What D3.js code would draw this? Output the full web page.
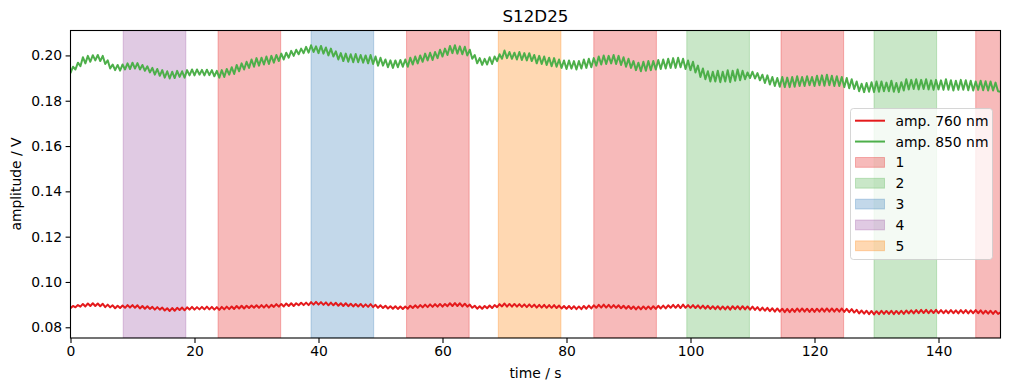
<!DOCTYPE html>
<html>
<head>
<meta charset="utf-8">
<script src="https://cdn.jsdelivr.net/npm/d3@7"></script>
<style>
  body { margin: 0; background: #fff; }
  svg { display: block; font-family: "DejaVu Sans", sans-serif; }
</style>
</head>
<body>
<svg width="1010" height="391"></svg>
<script>
// sampled every 0.4 s
var sampleStep = 0.4;

var amp760 = [
  0.0884,0.0894,0.0888,0.0898,0.0891, 0.0903,0.0892,0.0905,0.0894,0.0906,
  0.0894,0.0905,0.0893,0.0904,0.0889, 0.0900,0.0888,0.0897,0.0884,0.0895,
  0.0885,0.0896,0.0886,0.0898,0.0887, 0.0898,0.0886,0.0897,0.0883,0.0894,
  0.0882,0.0893,0.0881,0.0890,0.0878, 0.0889,0.0878,0.0887,0.0874,0.0884,
  0.0872,0.0885,0.0873,0.0886,0.0876, 0.0887,0.0875,0.0888,0.0878,0.0890,
  0.0878,0.0889,0.0879,0.0890,0.0879, 0.0891,0.0879,0.0890,0.0878,0.0889,
  0.0877,0.0890,0.0879,0.0891,0.0880, 0.0892,0.0881,0.0894,0.0883,0.0895,
  0.0883,0.0895,0.0885,0.0896,0.0886, 0.0897,0.0886,0.0898,0.0887,0.0899,
  0.0887,0.0899,0.0890,0.0902,0.0891, 0.0903,0.0892,0.0905,0.0894,0.0906,
  0.0894,0.0906,0.0897,0.0908,0.0898, 0.0909,0.0898,0.0911,0.0900,0.0912,
  0.0900,0.0911,0.0899,0.0910,0.0897, 0.0909,0.0897,0.0908,0.0895,0.0906,
  0.0894,0.0906,0.0893,0.0904,0.0892, 0.0903,0.0892,0.0903,0.0890,0.0901,
  0.0890,0.0902,0.0889,0.0899,0.0886, 0.0897,0.0885,0.0895,0.0883,0.0893,
  0.0882,0.0893,0.0881,0.0892,0.0881, 0.0892,0.0882,0.0895,0.0885,0.0897,
  0.0886,0.0898,0.0888,0.0900,0.0889, 0.0901,0.0890,0.0902,0.0891,0.0903,
  0.0891,0.0903,0.0893,0.0906,0.0894, 0.0907,0.0894,0.0906,0.0892,0.0904,
  0.0891,0.0900,0.0886,0.0895,0.0882, 0.0893,0.0882,0.0894,0.0884,0.0896,
  0.0885,0.0898,0.0889,0.0902,0.0892, 0.0905,0.0891,0.0903,0.0891,0.0903,
  0.0891,0.0902,0.0890,0.0901,0.0889, 0.0901,0.0889,0.0900,0.0887,0.0899,
  0.0887,0.0899,0.0886,0.0898,0.0886, 0.0898,0.0885,0.0896,0.0883,0.0894,
  0.0882,0.0894,0.0881,0.0893,0.0880, 0.0892,0.0880,0.0894,0.0882,0.0896,
  0.0883,0.0897,0.0886,0.0899,0.0887, 0.0900,0.0887,0.0899,0.0886,0.0898,
  0.0886,0.0897,0.0884,0.0895,0.0882, 0.0894,0.0881,0.0892,0.0879,0.0891,
  0.0879,0.0892,0.0880,0.0892,0.0880, 0.0893,0.0881,0.0895,0.0883,0.0896,
  0.0883,0.0897,0.0886,0.0899,0.0886, 0.0899,0.0885,0.0900,0.0886,0.0898,
  0.0886,0.0898,0.0885,0.0897,0.0883, 0.0896,0.0882,0.0895,0.0881,0.0893,
  0.0880,0.0893,0.0879,0.0892,0.0879, 0.0892,0.0878,0.0893,0.0880,0.0893,
  0.0879,0.0893,0.0879,0.0892,0.0878, 0.0891,0.0877,0.0889,0.0874,0.0887,
  0.0873,0.0886,0.0871,0.0884,0.0869, 0.0883,0.0869,0.0882,0.0867,0.0881,
  0.0867,0.0881,0.0868,0.0883,0.0869, 0.0883,0.0869,0.0882,0.0868,0.0882,
  0.0868,0.0882,0.0869,0.0883,0.0869, 0.0883,0.0869,0.0883,0.0869,0.0882,
  0.0869,0.0883,0.0868,0.0881,0.0867, 0.0880,0.0865,0.0877,0.0861,0.0874,
  0.0860,0.0873,0.0858,0.0872,0.0857, 0.0871,0.0858,0.0873,0.0859,0.0872,
  0.0859,0.0873,0.0858,0.0872,0.0859, 0.0873,0.0859,0.0874,0.0861,0.0875,
  0.0861,0.0876,0.0862,0.0877,0.0863, 0.0877,0.0862,0.0876,0.0863,0.0877,
  0.0862,0.0876,0.0862,0.0875,0.0862, 0.0876,0.0862,0.0875,0.0861,0.0876,
  0.0862,0.0876,0.0861,0.0875,0.0862, 0.0876,0.0862,0.0875,0.0860,0.0873,
  0.0860,0.0873,0.0859,0.0872,0.0859, 0.0866
];

var amp850 = [
  0.1922,0.1950,0.1938,0.1968,0.1952, 0.1992,0.1965,0.1998,0.1972,0.2001,
  0.1978,0.2002,0.1975,0.1998,0.1962, 0.1978,0.1942,0.1960,0.1935,0.1958,
  0.1933,0.1960,0.1938,0.1965,0.1940, 0.1968,0.1942,0.1966,0.1938,0.1958,
  0.1932,0.1952,0.1925,0.1945,0.1915, 0.1940,0.1910,0.1935,0.1902,0.1930,
  0.1898,0.1928,0.1900,0.1932,0.1905, 0.1930,0.1902,0.1935,0.1912,0.1938,
  0.1912,0.1938,0.1915,0.1936,0.1912, 0.1937,0.1913,0.1935,0.1908,0.1932,
  0.1902,0.1935,0.1905,0.1940,0.1915, 0.1948,0.1918,0.1958,0.1930,0.1965,
  0.1938,0.1972,0.1945,0.1982,0.1950, 0.1988,0.1955,0.1990,0.1960,0.1995,
  0.1962,0.1998,0.1968,0.2002,0.1975, 0.2008,0.1982,0.2012,0.1990,0.2020,
  0.1998,0.2025,0.2005,0.2030,0.2010, 0.2038,0.2012,0.2045,0.2015,0.2040,
  0.2010,0.2042,0.2008,0.2035,0.2000, 0.2030,0.1995,0.2018,0.1982,0.2010,
  0.1975,0.2008,0.1972,0.2005,0.1970, 0.2006,0.1970,0.2002,0.1968,0.2000,
  0.1965,0.2002,0.1962,0.1995,0.1955, 0.1990,0.1955,0.1982,0.1948,0.1978,
  0.1945,0.1978,0.1948,0.1980,0.1950, 0.1982,0.1950,0.1990,0.1960,0.1995,
  0.1965,0.2000,0.1972,0.2008,0.1978, 0.2012,0.1980,0.2015,0.1988,0.2025,
  0.1995,0.2030,0.2002,0.2042,0.2010, 0.2045,0.2008,0.2040,0.2005,0.2038,
  0.2000,0.2025,0.1985,0.2002,0.1965, 0.1988,0.1958,0.1985,0.1960,0.1992,
  0.1962,0.1995,0.1975,0.2005,0.1985, 0.2022,0.1988,0.2015,0.1985,0.2012,
  0.1982,0.2015,0.1980,0.2010,0.1978, 0.2010,0.1975,0.2002,0.1965,0.1998,
  0.1962,0.1995,0.1958,0.1990,0.1952, 0.1988,0.1950,0.1982,0.1945,0.1978,
  0.1940,0.1978,0.1942,0.1975,0.1938, 0.1975,0.1942,0.1982,0.1945,0.1985,
  0.1948,0.1988,0.1955,0.1995,0.1960, 0.2000,0.1962,0.1998,0.1965,0.2002,
  0.1962,0.1998,0.1958,0.1992,0.1950, 0.1985,0.1945,0.1975,0.1935,0.1968,
  0.1930,0.1972,0.1932,0.1975,0.1935, 0.1975,0.1938,0.1980,0.1940,0.1982,
  0.1942,0.1985,0.1945,0.1988,0.1945, 0.1990,0.1948,0.1985,0.1940,0.1978,
  0.1935,0.1972,0.1925,0.1955,0.1905, 0.1942,0.1895,0.1930,0.1885,0.1928,
  0.1885,0.1932,0.1882,0.1928,0.1885, 0.1935,0.1882,0.1932,0.1888,0.1938,
  0.1890,0.1932,0.1895,0.1925,0.1900, 0.1928,0.1898,0.1922,0.1890,0.1915,
  0.1878,0.1912,0.1872,0.1905,0.1865, 0.1900,0.1862,0.1905,0.1860,0.1902,
  0.1860,0.1905,0.1862,0.1908,0.1865, 0.1905,0.1865,0.1908,0.1868,0.1905,
  0.1865,0.1910,0.1868,0.1912,0.1866, 0.1915,0.1868,0.1910,0.1865,0.1908,
  0.1865,0.1905,0.1860,0.1900,0.1855, 0.1895,0.1852,0.1885,0.1842,0.1875,
  0.1838,0.1878,0.1840,0.1882,0.1838, 0.1885,0.1840,0.1885,0.1842,0.1880,
  0.1842,0.1888,0.1840,0.1878,0.1838, 0.1882,0.1845,0.1895,0.1850,0.1892,
  0.1852,0.1895,0.1850,0.1892,0.1852, 0.1895,0.1850,0.1890,0.1848,0.1892,
  0.1850,0.1890,0.1848,0.1895,0.1848, 0.1890,0.1845,0.1888,0.1848,0.1892,
  0.1848,0.1890,0.1846,0.1888,0.1845, 0.1885,0.1848,0.1888,0.1846,0.1886,
  0.1845,0.1885,0.1845,0.1880,0.1842, 0.1840
];

// stimulus blocks: onset (s), duration (s), condition
var blockOnsets = [8.5, 23.8, 38.8, 54.2, 69.0, 84.4, 99.4, 114.6, 129.6, 146.0];
var blockDurations = [10.1, 10.1, 10.1, 10.1, 10.1, 10.1, 10.1, 10.1, 10.1, 10.1];
var blockConditions = ["4", "1", "3", "1", "5", "1", "2", "1", "2", "1"];

var conditionNames = ["1", "2", "3", "4", "5"];
var conditionColors = ["#e41a1c", "#4daf4a", "#377eb8", "#984ea3", "#ff7f00"];

var seriesNames = ["amp. 760 nm", "amp. 850 nm"];
var seriesColors = ["#e41a1c", "#4daf4a"];

var xTicks = [0, 20, 40, 60, 80, 100, 120, 140];
var yTicks = [0.08, 0.10, 0.12, 0.14, 0.16, 0.18, 0.20];

var svg = d3.select("svg");
var pLeft = 70.5, pRight = 1000.5, pTop = 30, pBottom = 338;

var x = d3.scaleLinear().domain([0, 150]).range([pLeft, pRight]);
var y = d3.scaleLinear().domain([0.07527, 0.21122]).range([pBottom, pTop]);
var colorOf = d3.scaleOrdinal().domain(conditionNames).range(conditionColors);

svg.append("defs").append("clipPath").attr("id", "plot")
  .append("rect").attr("x", pLeft).attr("y", pTop)
  .attr("width", pRight - pLeft).attr("height", pBottom - pTop);

var plot = svg.append("g").attr("clip-path", "url(#plot)");

// blocks
plot.selectAll("rect.block")
  .data(blockOnsets)
  .join("rect")
  .attr("class", "block")
  .attr("x", function(d) { return x(d); })
  .attr("y", pTop)
  .attr("width", function(d, i) { return x(d + blockDurations[i]) - x(d); })
  .attr("height", pBottom - pTop)
  .attr("fill", function(d, i) { return colorOf(blockConditions[i]); })
  .attr("fill-opacity", 0.3)
  .attr("stroke", function(d, i) { return colorOf(blockConditions[i]); })
  .attr("stroke-opacity", 0.3)
  .attr("stroke-width", 1);

var line = d3.line()
  .x(function(d, i) { return x(i * sampleStep); })
  .y(function(d) { return y(d); });

[amp760, amp850].forEach(function(s, k) {
  plot.append("path")
    .datum(s)
    .attr("d", line)
    .attr("fill", "none")
    .attr("stroke", seriesColors[k])
    .attr("stroke-width", 2)
    .attr("stroke-linejoin", "round");
});

// axes
var xAxis = svg.append("g")
  .attr("transform", "translate(0," + pBottom + ")")
  .call(d3.axisBottom(x).tickValues(xTicks).tickSize(4.9).tickPadding(3.5).tickFormat(d3.format("d")));
var yAxis = svg.append("g")
  .attr("transform", "translate(" + pLeft + ",0)")
  .call(d3.axisLeft(y).tickValues(yTicks).tickSize(4.9).tickPadding(3.5).tickFormat(d3.format(".2f")));

[xAxis, yAxis].forEach(function(g) {
  g.select(".domain").remove();
  g.selectAll("line").attr("stroke", "#000").attr("stroke-width", 1.1);
  g.selectAll("text").attr("fill", "#000").style("font-size", "13.9px")
    .style("font-family", "DejaVu Sans");
});

svg.append("rect")
  .attr("x", pLeft).attr("y", pTop + 0.5)
  .attr("width", pRight - pLeft).attr("height", pBottom - pTop - 0.5)
  .attr("fill", "none").attr("stroke", "#000").attr("stroke-width", 1.1);

svg.append("text")
  .attr("x", (pLeft + pRight) / 2).attr("y", 22)
  .attr("text-anchor", "middle").style("font-size", "16.7px")
  .text("S12D25");

svg.append("text")
  .attr("x", (pLeft + pRight) / 2).attr("y", 378)
  .attr("text-anchor", "middle").style("font-size", "13.9px")
  .text("time / s");

svg.append("text")
  .attr("transform", "translate(21," + (pTop + pBottom) / 2 + ") rotate(-90)")
  .attr("text-anchor", "middle").style("font-size", "13.9px")
  .text("amplitude / V");

// legend
var legend = svg.append("g");
legend.append("rect")
  .attr("x", 850.5).attr("y", 108.5).attr("width", 142).attr("height", 151)
  .attr("rx", 3)
  .attr("fill", "#fff").attr("fill-opacity", 0.8)
  .attr("stroke", "#ccc").attr("stroke-opacity", 0.8);

var rowY0 = 120.7, rowH = 20.85;
var entries = seriesNames.map(function(n, i) { return { name: n, kind: "line", color: seriesColors[i] }; })
  .concat(conditionNames.map(function(n) { return { name: n, kind: "patch", color: colorOf(n) }; }));

var rows = legend.selectAll("g.row").data(entries).join("g")
  .attr("transform", function(d, i) { return "translate(0," + (rowY0 + i * rowH) + ")"; });

rows.filter(function(d) { return d.kind === "line"; })
  .append("line")
  .attr("x1", 855).attr("x2", 885).attr("y1", 0).attr("y2", 0)
  .attr("stroke", function(d) { return d.color; }).attr("stroke-width", 2);

rows.filter(function(d) { return d.kind === "patch"; })
  .append("rect")
  .attr("x", 855.5).attr("y", -4.9).attr("width", 29).attr("height", 9.8)
  .attr("fill", function(d) { return d.color; }).attr("fill-opacity", 0.3)
  .attr("stroke", function(d) { return d.color; }).attr("stroke-opacity", 0.3);

rows.append("text")
  .attr("x", 895.5).attr("y", 0).attr("dy", "0.36em")
  .style("font-size", "13.9px")
  .text(function(d) { return d.name; });
</script>
</body>
</html>
